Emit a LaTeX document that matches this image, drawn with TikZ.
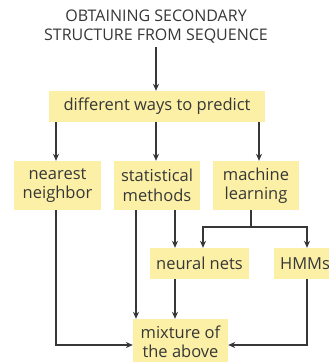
\documentclass[tikz,border=0pt]{standalone}
\usepackage{fontspec}
\setmainfont{Open Sans}
\usetikzlibrary{arrows.meta,calc}
\definecolor{boxfill}{RGB}{251,240,166}
\definecolor{ink}{RGB}{55,55,55}
\tikzset{
  box/.style={rectangle, fill=boxfill, draw=none, text=ink, align=center, inner sep=0pt, font=\fontsize{16.5}{19.5}\selectfont},
  lbl/.style={text=ink, align=center, inner sep=0pt, font=\fontsize{16.5}{19}\selectfont},
  arr/.style={draw=ink, line width=1.2pt, -{Stealth[length=7pt,width=6pt]}},
  ln/.style={draw=ink, line width=1.2pt}
}
\begin{document}
\begin{tikzpicture}[x=1pt,y=-1pt]
\useasboundingbox (0,0) rectangle (329,362);
\clip (0,0) rectangle (329,362);
\fill[white] (0,0) rectangle (329,362);
\node[text=ink, align=center, font=\fontsize{16}{19}\selectfont] (title) at (156,27) {OBTAINING SECONDARY\\STRUCTURE FROM SEQUENCE};
\node[box, minimum width=216pt, minimum height=31pt] (pred) at (157,106.5) {different ways to predict};
\node[box, minimum width=87pt, minimum height=49pt] (nn) at (57.5,185.5) {nearest\\neighbor};
\node[box, minimum width=86pt, minimum height=49pt] (sm) at (157,185.5) {statistical\\methods};
\node[box, minimum width=86pt, minimum height=49pt] (ml) at (256,185.5) {machine\\learning};
\node[box, minimum width=99pt, minimum height=31pt] (nets) at (199.5,263.5) {neural nets};
\node[box, minimum width=62pt, minimum height=31pt] (hmm) at (305,263.5) {HMMs};
\node[box, minimum width=95pt, minimum height=52pt] (mix) at (180.5,345) {};
\node[lbl] (mixt) at (180.5,341.5) {mixture of\\the above};
\coordinate (xa) at (56,0);
\coordinate (xb) at (156,0);
\coordinate (xc) at (259,0);
\coordinate (xd) at (136,0);
\coordinate (xe) at (175,0);
\coordinate (xf) at (251,0);
\coordinate (xg) at (203,0);
\coordinate (xh) at (307,0);
\coordinate (ymid) at (0,345);
\coordinate (ysplit) at (0,227);
\coordinate (ttop) at (156,47);
\draw[arr] (ttop) -- (pred.north -| ttop);
\draw[arr] (pred.south -| xa) -- (nn.north -| xa);
\draw[arr] (pred.south -| xb) -- (sm.north -| xb);
\draw[arr] (pred.south -| xc) -- (ml.north -| xc);
\draw[arr] (nn.south -| xa) -- (xa |- ymid) -- (mix.west |- ymid);
\draw[arr] (sm.south -| xd) -- (mix.north -| xd);
\draw[arr] (sm.south -| xe) -- (nets.north -| xe);
\draw[ln] (ml.south -| xf) -- (xf |- ysplit);
\draw[arr] (xf |- ysplit) -- (xg |- ysplit) -- (nets.north -| xg);
\draw[arr] (xf |- ysplit) -- (xh |- ysplit) -- (hmm.north -| xh);
\draw[arr] (nets.south -| xe) -- (mix.north -| xe);
\draw[arr] (hmm.south -| xh) -- (xh |- ymid) -- (mix.east |- ymid);
\end{tikzpicture}
\end{document}
